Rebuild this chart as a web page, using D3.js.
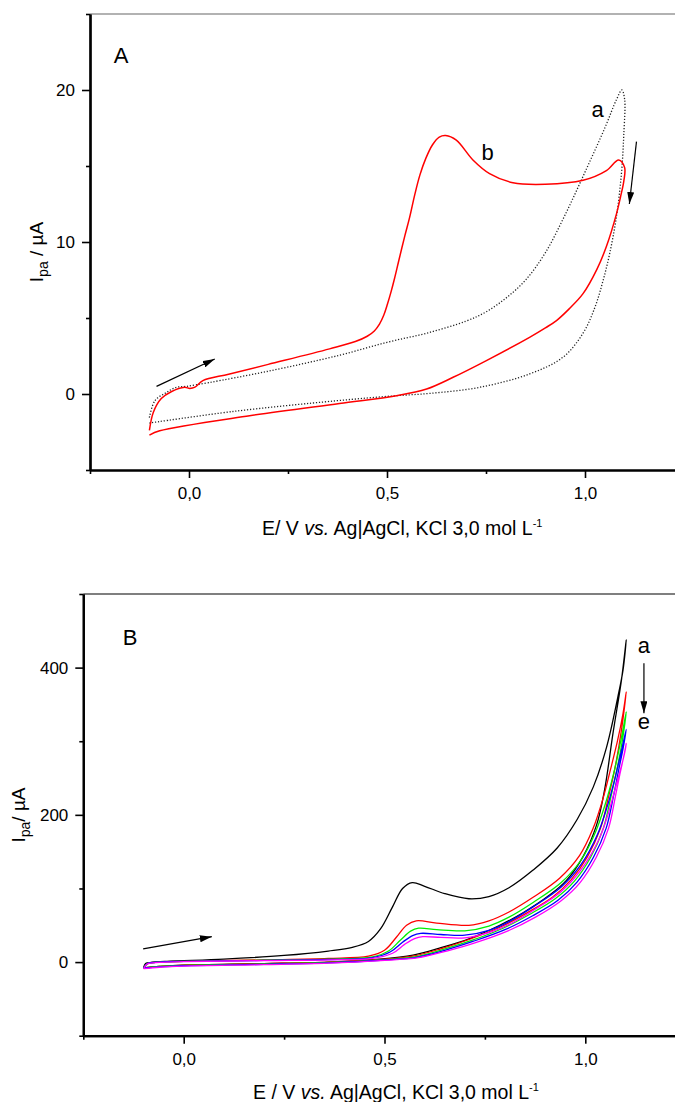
<!DOCTYPE html>
<html>
<head>
<meta charset="utf-8">
<script src="https://cdn.jsdelivr.net/npm/d3@7/dist/d3.min.js"></script>
<style>
body { margin: 0; background: #fff; }
svg { display: block; font-family: "Liberation Sans", Arial, sans-serif; }
</style>
</head>
<body>
<svg id="chart" width="675" height="1102"></svg>
<script>
/* global d3 */

// ---- data: panel A (E / V, I / uA), forward scan then reverse scan ----
let curveA_a = [
	[-0.1,-1.55],[-0.086,-0.44],[-0.057,0.1],[-0.032,0.44],[-0.007,0.5],[0.05,0.75],[0.2,1.5],[0.38,2.55],
	[0.5,3.4],[0.6,4.0],[0.7,4.8],[0.75,5.4],[0.8,6.3],[0.85,7.5],[0.9,9.3],[0.95,11.8],[1.0,14.6],
	[1.05,17.5],[1.08,19.4],[1.093,20.0],[1.1,19.4],
	[1.098,17.1],[1.092,14.5],[1.079,11.6],[1.062,9.2],[1.045,7.4],[1.025,5.7],[0.995,4.0],[0.944,2.41],
	[0.86,1.32],[0.734,0.44],[0.608,0.04],[0.524,-0.11],[0.37,-0.45],[0.111,-1.15],[-0.1,-1.91]
];
let curveA_b = [
	[-0.1,-2.4],[-0.09,-1.2],[-0.07,-0.3],[-0.045,0.15],[-0.011,0.44],[0.002,0.37],[0.015,0.45],[0.035,0.88],
	[0.1,1.3],[0.2,1.95],[0.355,2.97],[0.42,3.45],[0.45,3.8],[0.468,4.15],[0.481,4.6],[0.492,5.2],
	[0.501,5.9],[0.51,6.7],[0.519,7.6],[0.53,8.8],[0.545,10.4],[0.557,11.6],[0.57,13.1],[0.583,14.4],
	[0.598,15.5],[0.615,16.4],[0.632,16.9],[0.648,17.0],[0.675,16.7],[0.717,15.4],[0.759,14.5],
	[0.818,13.9],[0.9,13.8],[0.995,14.06],[1.054,14.7],[1.085,15.4],[1.1,14.9],
	[1.098,14.0],[1.09,13.0],[1.08,11.9],[1.054,9.7],[1.03,8.2],[0.995,6.6],[0.96,5.6],[0.928,4.83],
	[0.9,4.35],[0.86,3.73],[0.751,2.2],[0.667,1.1],[0.6,0.33],[0.524,-0.11],[0.38,-0.62],[0.153,-1.43],
	[-0.074,-2.42],[-0.1,-2.7]
];

// ---- data: panel B, curves a..e ----
let curveB_a = [
	[-0.1,-8],[-0.095,-2],[-0.08,-0.5],[-0.04,1],[0.1,4],[0.25,9],[0.36,15],[0.42,20],[0.46,28],[0.49,45],
	[0.52,75],[0.545,100],[0.569,108],[0.6,103],[0.65,93],[0.71,86],[0.76,89],[0.81,101],[0.87,125],
	[0.93,155],[0.98,194],[1.02,238],[1.053,292],[1.081,360],[1.094,397],[1.102,438],
	[1.09,383],[1.069,311],[1.048,234],[1.028,186],[0.994,143],[0.953,111],[0.911,91],[0.845,67],
	[0.787,50],[0.712,32],[0.637,19],[0.571,9.5],[0.488,4],[0.36,0],[0.2,-2],[0,-4],[-0.06,-6],[-0.1,-8]
];
let curveB_b = [
	[-0.1,-8],[-0.09,-2],[-0.06,0],[0,1],[0.2,3],[0.36,5],[0.46,8],[0.5,16],[0.53,34],[0.555,50],
	[0.579,56],[0.63,53],[0.71,50],[0.76,56],[0.81,68],[0.87,88],[0.936,114],[0.986,145],[1.019,181],
	[1.044,222],[1.062,260],[1.08,300],[1.094,338],[1.102,367],
	[1.09,315],[1.073,261],[1.058,225],[1.038,182],[1.005,143],[0.965,112],[0.918,88],[0.855,67],
	[0.79,48],[0.712,31],[0.64,18],[0.57,8],[0.49,3.5],[0.36,0],[0.2,-2],[0,-4],[-0.06,-6],[-0.1,-8]
];
let curveB_c = [
	[-0.1,-8],[-0.09,-2],[-0.06,0],[0,1],[0.2,2.5],[0.36,4],[0.47,7],[0.51,15],[0.54,30],[0.565,42],
	[0.585,46],[0.63,44],[0.7,42.5],[0.76,49],[0.81,61],[0.87,81],[0.94,108],[0.99,139],[1.025,176],
	[1.05,215],[1.07,255],[1.09,305],[1.102,340],
	[1.092,300],[1.078,260],[1.064,225],[1.045,182],[1.013,142],[0.973,110],[0.925,86],[0.862,65],
	[0.795,46],[0.715,29],[0.645,17],[0.575,7],[0.49,3],[0.36,-0.5],[0.2,-2.5],[0,-4.5],[-0.06,-6],[-0.1,-8]
];
let curveB_d = [
	[-0.1,-8],[-0.09,-2],[-0.06,0],[0,1],[0.2,2.2],[0.36,3.5],[0.47,6],[0.515,14],[0.545,27],[0.57,36],
	[0.59,39],[0.64,37.5],[0.7,36.5],[0.76,43],[0.81,55],[0.87,75],[0.94,102],[0.99,133],[1.03,173],
	[1.055,212],[1.075,252],[1.092,292],[1.102,316],
	[1.094,290],[1.082,258],[1.07,225],[1.052,182],[1.02,142],[0.98,109],[0.932,84],[0.869,63],
	[0.8,44],[0.72,28],[0.65,16],[0.58,6.5],[0.49,2.5],[0.36,-1],[0.2,-3],[0,-5],[-0.06,-6.5],[-0.1,-8]
];
let curveB_e = [
	[-0.1,-9],[-0.09,-2.5],[-0.06,-0.5],[0,0.5],[0.2,2],[0.36,3],[0.47,5],[0.52,12],[0.55,24],[0.575,32],
	[0.595,34.5],[0.64,33.5],[0.7,33],[0.76,40],[0.81,51],[0.87,70],[0.94,96],[0.99,126],[1.035,168],
	[1.06,207],[1.08,247],[1.095,277],[1.102,297],
	[1.096,280],[1.086,255],[1.075,225],[1.058,182],[1.027,142],[0.987,108],[0.939,83],[0.876,61],
	[0.806,42],[0.725,26],[0.655,15],[0.585,6],[0.49,2],[0.36,-1.5],[0.2,-3.5],[0,-5.5],[-0.06,-7],[-0.1,-9]
];

// ---- ticks ----
let xMajor = [0, 0.5, 1.0];
let xMinor = [-0.25, 0.25, 0.75];
let yMajorA = [0, 10, 20];
let yMinorA = [-5, 5, 15, 25];
let yMajorB = [0, 200, 400];
let yMinorB = [-100, 100, 300, 500];

let svg = d3.select("#chart");

svg.append("defs").append("marker")
	.attr("id", "head")
	.attr("viewBox", "0 0 12 7")
	.attr("refX", 12).attr("refY", 3.5)
	.attr("markerWidth", 12).attr("markerHeight", 7)
	.attr("markerUnits", "userSpaceOnUse")
	.attr("orient", "auto")
	.append("path").attr("d", "M0,0L12,3.5L0,7Z").attr("fill", "#000");

let commaFmt = v => d3.format(".1f")(v).replace(".", ",");

function drawPanel(p) {
	let x = d3.scaleLinear().domain([-0.25, 1.25]).range(p.xr);
	let y = d3.scaleLinear().domain(p.yd).range(p.yr);
	let g = svg.append("g");

	// top frame line
	g.append("line")
		.attr("x1", p.xr[0]).attr("x2", p.xr[1])
		.attr("y1", p.yr[1]).attr("y2", p.yr[1])
		.attr("stroke", p.topColor).attr("stroke-width", 1.2);

	// curves
	let line = d3.line()
		.x(d => x(d[0]))
		.y(d => y(d[1]))
		.curve(d3.curveCatmullRom.alpha(0.5));
	p.series.forEach(s => {
		g.append("path")
			.attr("d", line(s.data))
			.attr("fill", "none")
			.attr("stroke", s.color)
			.attr("stroke-width", s.width)
			.attr("stroke-dasharray", s.dash || null);
	});

	// axes
	let xa = g.append("g").attr("transform", "translate(0," + p.yr[0] + ")")
		.call(d3.axisBottom(x).tickValues(xMajor).tickSize(8).tickPadding(9).tickSizeOuter(0).tickFormat(commaFmt));
	g.append("g").attr("transform", "translate(0," + p.yr[0] + ")")
		.call(d3.axisBottom(x).tickValues(xMinor).tickSize(4).tickSizeOuter(0).tickFormat(""));
	g.append("g").attr("transform", "translate(" + p.xr[0] + ",0)")
		.call(d3.axisLeft(y).tickValues(p.yMajor).tickSize(8).tickPadding(7).tickSizeOuter(0));
	g.append("g").attr("transform", "translate(" + p.xr[0] + ",0)")
		.call(d3.axisLeft(y).tickValues(p.yMinor).tickSize(4).tickSizeOuter(0).tickFormat(""));
	g.selectAll(".domain").attr("stroke-width", 2.2);
	g.selectAll(".tick line").attr("stroke-width", 1.6);
	g.selectAll(".tick text").attr("font-size", 17).attr("font-family", "Liberation Sans, Arial, sans-serif").attr("fill", "#000");
	xa.selectAll(".tick text").attr("dy", "0.71em");

	// x title
	let xt = g.append("text")
		.attr("x", p.xTitle[0]).attr("y", p.xTitle[1])
		.attr("font-size", 19.5).attr("fill", "#000");
	xt.append("tspan").text(p.xLead);
	xt.append("tspan").attr("font-style", "italic").text("vs.");
	xt.append("tspan").text(" Ag|AgCl, KCl 3,0 mol L");
	xt.append("tspan").attr("font-size", 11).attr("dy", -8).text("-1");

	// y title
	let yt = g.append("text")
		.attr("transform", "translate(" + p.yTitle[0] + "," + p.yTitle[1] + ") rotate(-90)")
		.attr("text-anchor", "middle")
		.attr("font-size", 19).attr("fill", "#000");
	yt.append("tspan").text("I");
	yt.append("tspan").attr("font-size", 14).attr("dy", 5).text("pa");
	yt.append("tspan").attr("dy", -5).text(p.ySep + "µA");

	// panel letter and curve labels
	g.append("text").attr("x", x(p.letter[1])).attr("y", y(p.letter[2]))
		.attr("font-size", 22).text(p.letter[0]);
	p.labels.forEach(l => {
		g.append("text").attr("x", x(l[1])).attr("y", y(l[2]))
			.attr("text-anchor", "middle").attr("font-size", 22).text(l[0]);
	});

	// arrows
	p.arrows.forEach(a => {
		g.append("line")
			.attr("x1", x(a[0])).attr("y1", y(a[1]))
			.attr("x2", x(a[2])).attr("y2", y(a[3]))
			.attr("stroke", "#000").attr("stroke-width", 1.2)
			.attr("marker-end", "url(#head)");
	});
}

drawPanel({
	xr: [90, 684], yd: [-5, 25], yr: [470, 14],
	yMajor: yMajorA, yMinor: yMinorA, topColor: "#666",
	series: [
		{ data: curveA_a, color: "#222", width: 1.3, dash: "1.2,1.8" },
		{ data: curveA_b, color: "#ff0000", width: 1.5 }
	],
	xTitle: [262, 535], xLead: "E/ V ",
	yTitle: [43, 252], ySep: " / ",
	letter: ["A", -0.19, 21.8],
	labels: [["a", 1.032, 18.2], ["b", 0.754, 15.4]],
	arrows: [[-0.082, 0.5, 0.065, 2.3], [1.13, 16.6, 1.112, 12.5]]
});

drawPanel({
	xr: [83.3, 685.7], yd: [-100, 500], yr: [1035.7, 594],
	yMajor: yMajorB, yMinor: yMinorB, topColor: "#000",
	series: [
		{ data: curveB_a, color: "#000", width: 1.3 },
		{ data: curveB_b, color: "#ff0000", width: 1.3 },
		{ data: curveB_c, color: "#00ee00", width: 1.3 },
		{ data: curveB_d, color: "#0000ff", width: 1.3 },
		{ data: curveB_e, color: "#ff00ff", width: 1.3 }
	],
	xTitle: [253, 1099], xLead: "E / V ",
	yTitle: [25, 815], ySep: "/ ",
	letter: ["B", -0.152, 431],
	labels: [["a", 1.146, 420], ["e", 1.146, 317]],
	arrows: [[-0.101, 18, 0.07, 34.5], [1.146, 406, 1.146, 338]]
});
</script>
</body>
</html>
